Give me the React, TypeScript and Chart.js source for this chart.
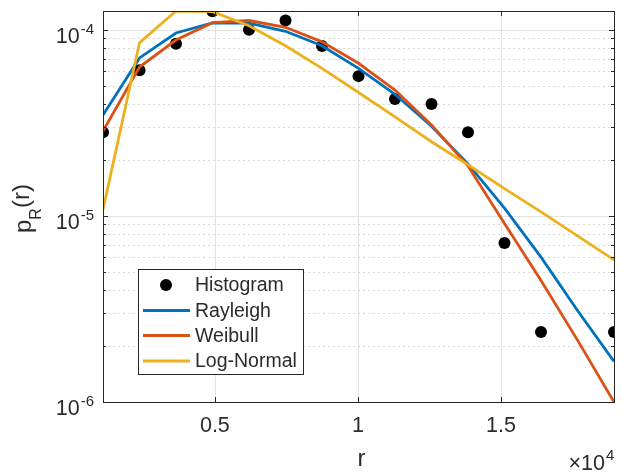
import React, { useEffect, useRef } from "react";
import { Chart, registerables } from "chart.js";

Chart.register(...registerables);

// ---- data ----
const rValues = [1090, 2366, 3641, 4917, 6193, 7469, 8744, 10020, 11296, 12571, 13847, 15123, 16399, 17674, 18950];
const histogram = [2.81e-5, 6.06e-5, 8.41e-5, 1.257e-4, 1.0e-4, 1.12e-4, 8.17e-5, 5.63e-5, 4.24e-5, 3.99e-5, 2.81e-5, 7.14e-6, 2.38e-6, null, 2.38e-6];
const rayleigh = [3.48e-5, 7.05e-5, 9.6e-5, 1.088e-4, 1.085e-4, 9.8e-5, 8.2e-5, 6.2e-5, 4.5e-5, 3.03e-5, 1.9e-5, 1.1e-5, 6.0e-6, 3.1e-6, 1.65e-6];
const weibull = [2.85e-5, 6.3e-5, 8.8e-5, 1.09e-4, 1.12e-4, 1.03e-4, 8.6e-5, 6.6e-5, 4.74e-5, 3.08e-5, 1.85e-5, 9.1e-6, 4.5e-6, 2.15e-6, 1.0e-6];
const logNormal = [1.08e-5, 8.5e-5, 1.26e-4, 1.25e-4, 1.05e-4, 8.2e-5, 6.2e-5, 4.6e-5, 3.4e-5, 2.5e-5, 1.88e-5, 1.4e-5, 1.05e-5, 7.8e-6, 5.8e-6];

const xMin = 1090;
const xMax = 18950;
const yMin = 1e-6;
const yMax = 1.26e-4;
const xTickValues = [5000, 10000, 15000];
const xTickLabels = ["0.5", "1", "1.5"];
const yTickValues = [1e-6, 1e-5, 1e-4];
const yTickExponents = ["-6", "-5", "-4"];
const seriesNames = ["Histogram", "Rayleigh", "Weibull", "Log-Normal"];
const seriesColors = ["#000000", "#0072BD", "#D95319", "#EDB120"];

const FONT = '"Liberation Sans", Arial, Helvetica, sans-serif';
const TEXT = "#2b2b2b";
const AXIS = "#262626";
const LW = 2.8;

function pts(vals: (number | null)[]) {
  return rValues.map((r, i) => ({ x: r, y: vals[i] }));
}

const decor = {
  id: "decor",
  beforeDatasetsDraw(chart: any) {
    const { ctx, chartArea: a, scales } = chart;
    const x = scales.x;
    const y = scales.y;
    ctx.save();
    ctx.lineWidth = 1;
    ctx.strokeStyle = "#e2e2e2";
    ctx.setLineDash([]);
    for (const v of xTickValues) {
      const px = Math.round(x.getPixelForValue(v)) + 0.5;
      ctx.beginPath();
      ctx.moveTo(px, a.top);
      ctx.lineTo(px, a.bottom);
      ctx.stroke();
    }
    for (let e = -6; e <= -4; e++) {
      for (let m = 1; m <= 9; m++) {
        const v = m * Math.pow(10, e);
        if (v <= yMin * 1.0001 || v >= yMax) continue;
        const py = Math.round(y.getPixelForValue(v)) + 0.5;
        if (m === 1) {
          ctx.strokeStyle = "#e2e2e2";
          ctx.setLineDash([]);
        } else {
          ctx.strokeStyle = "#d8d8d8";
          ctx.setLineDash([2, 3]);
        }
        ctx.beginPath();
        ctx.moveTo(a.left, py);
        ctx.lineTo(a.right, py);
        ctx.stroke();
      }
    }
    ctx.restore();
  },
  afterDatasetsDraw(chart: any) {
    const { ctx, chartArea: a, scales } = chart;
    const x = scales.x;
    const y = scales.y;
    ctx.save();
    ctx.setLineDash([]);
    ctx.strokeStyle = AXIS;
    ctx.lineWidth = 1;
    ctx.strokeRect(Math.round(a.left) + 0.5, Math.round(a.top) + 0.5, Math.round(a.right - a.left), Math.round(a.bottom - a.top));
    const tl = 5;
    ctx.beginPath();
    for (const v of xTickValues) {
      const px = Math.round(x.getPixelForValue(v)) + 0.5;
      ctx.moveTo(px, a.bottom);
      ctx.lineTo(px, a.bottom - tl);
      ctx.moveTo(px, a.top);
      ctx.lineTo(px, a.top + tl);
    }
    for (let e = -6; e <= -4; e++) {
      for (let m = 1; m <= 9; m++) {
        const v = m * Math.pow(10, e);
        if (v < yMin * 0.999 || v > yMax) continue;
        const py = Math.round(y.getPixelForValue(v)) + 0.5;
        const len = m === 1 ? tl : 3;
        ctx.moveTo(a.left, py);
        ctx.lineTo(a.left + len, py);
        ctx.moveTo(a.right, py);
        ctx.lineTo(a.right - len, py);
      }
    }
    ctx.stroke();

    ctx.fillStyle = TEXT;
    ctx.textBaseline = "alphabetic";
    ctx.textAlign = "center";
    ctx.font = `21.5px ${FONT}`;
    xTickValues.forEach((v, i) => {
      ctx.fillText(xTickLabels[i], x.getPixelForValue(v), a.bottom + 30);
    });
    ctx.font = `24px ${FONT}`;
    ctx.fillText("r", (a.left + a.right) / 2 + 3, a.bottom + 64);
    ctx.textAlign = "left";
    ctx.font = `21.5px ${FONT}`;
    const base = "\u00d710";
    const bw = ctx.measureText(base).width;
    const bx = a.right - bw - 9;
    ctx.fillText(base, bx, a.bottom + 68);
    ctx.font = `15px ${FONT}`;
    ctx.fillText("4", bx + bw + 1, a.bottom + 58);

    yTickValues.forEach((v, i) => {
      const py = y.getPixelForValue(v);
      ctx.font = `15px ${FONT}`;
      const ew = ctx.measureText(yTickExponents[i]).width;
      const right = a.left - 9;
      ctx.textAlign = "left";
      ctx.fillText(yTickExponents[i], right - ew, py + 4);
      ctx.font = `21.5px ${FONT}`;
      ctx.textAlign = "right";
      ctx.fillText("10", right - ew - 1, py + 13);
    });

    ctx.save();
    ctx.translate(31, 233);
    ctx.rotate(-Math.PI / 2);
    ctx.textAlign = "left";
    ctx.font = `24px ${FONT}`;
    ctx.fillText("p", 0, 0);
    let off = ctx.measureText("p").width;
    ctx.font = `16px ${FONT}`;
    ctx.fillText("R", off, 10);
    off += ctx.measureText("R").width;
    ctx.font = `24px ${FONT}`;
    ctx.fillText("(r)", off, -2);
    ctx.restore();

    const lx = 138.5, ly = 269.5, lw = 165, lh = 105;
    ctx.fillStyle = "#ffffff";
    ctx.fillRect(lx, ly, lw, lh);
    ctx.strokeStyle = AXIS;
    ctx.lineWidth = 1;
    ctx.strokeRect(lx, ly, lw, lh);
    const rows = [285, 310.5, 335.5, 361];
    ctx.font = `19.5px ${FONT}`;
    ctx.textAlign = "left";
    ctx.textBaseline = "middle";
    seriesNames.forEach((name, i) => {
      const ry = rows[i];
      if (i === 0) {
        ctx.fillStyle = "#000";
        ctx.beginPath();
        ctx.arc(166, ry, 6, 0, Math.PI * 2);
        ctx.fill();
      } else {
        ctx.strokeStyle = seriesColors[i];
        ctx.lineWidth = LW;
        ctx.beginPath();
        ctx.moveTo(143, ry);
        ctx.lineTo(190, ry);
        ctx.stroke();
      }
      ctx.fillStyle = TEXT;
      ctx.fillText(name, 195, ry + 1);
    });
    ctx.restore();
  },
};

export default function App() {
  const ref = useRef<HTMLCanvasElement | null>(null);
  useEffect(() => {
    if (!ref.current) return;
    const line = (i: number, vals: number[], order: number) => ({
      label: seriesNames[i],
      data: pts(vals),
      showLine: true,
      borderColor: seriesColors[i],
      borderWidth: LW,
      pointRadius: 0,
      fill: false,
      tension: 0,
      order,
    });
    const chart = new Chart(ref.current, {
      type: "scatter",
      data: {
        datasets: [
          {
            label: seriesNames[0],
            data: pts(histogram),
            showLine: false,
            pointRadius: 6,
            pointBackgroundColor: "#000",
            pointBorderColor: "#000",
            pointBorderWidth: 0,
            order: 4,
          },
          line(1, rayleigh, 3),
          line(2, weibull, 2),
          line(3, logNormal, 1),
        ] as any,
      },
      options: {
        responsive: false,
        animation: false,
        events: [],
        layout: { padding: { top: 11, right: 8, left: 0, bottom: 0 } },
        plugins: { legend: { display: false }, tooltip: { enabled: false } },
        scales: {
          x: {
            type: "linear",
            min: xMin,
            max: xMax,
            grid: { display: false },
            border: { display: false },
            ticks: { display: false },
            afterFit: (s: any) => {
              s.height = 71;
            },
          },
          y: {
            type: "logarithmic",
            min: yMin,
            max: yMax,
            grid: { display: false },
            border: { display: false },
            ticks: { display: false },
            afterFit: (s: any) => {
              s.width = 103;
            },
          },
        },
      } as any,
      plugins: [decor],
    });
    return () => chart.destroy();
  }, []);
  return (
    <div style={{ position: "fixed", left: 0, top: 0, width: 622, height: 473, background: "#fff" }}>
      <canvas ref={ref} width={622} height={473} style={{ display: "block" }} />
    </div>
  );
}
